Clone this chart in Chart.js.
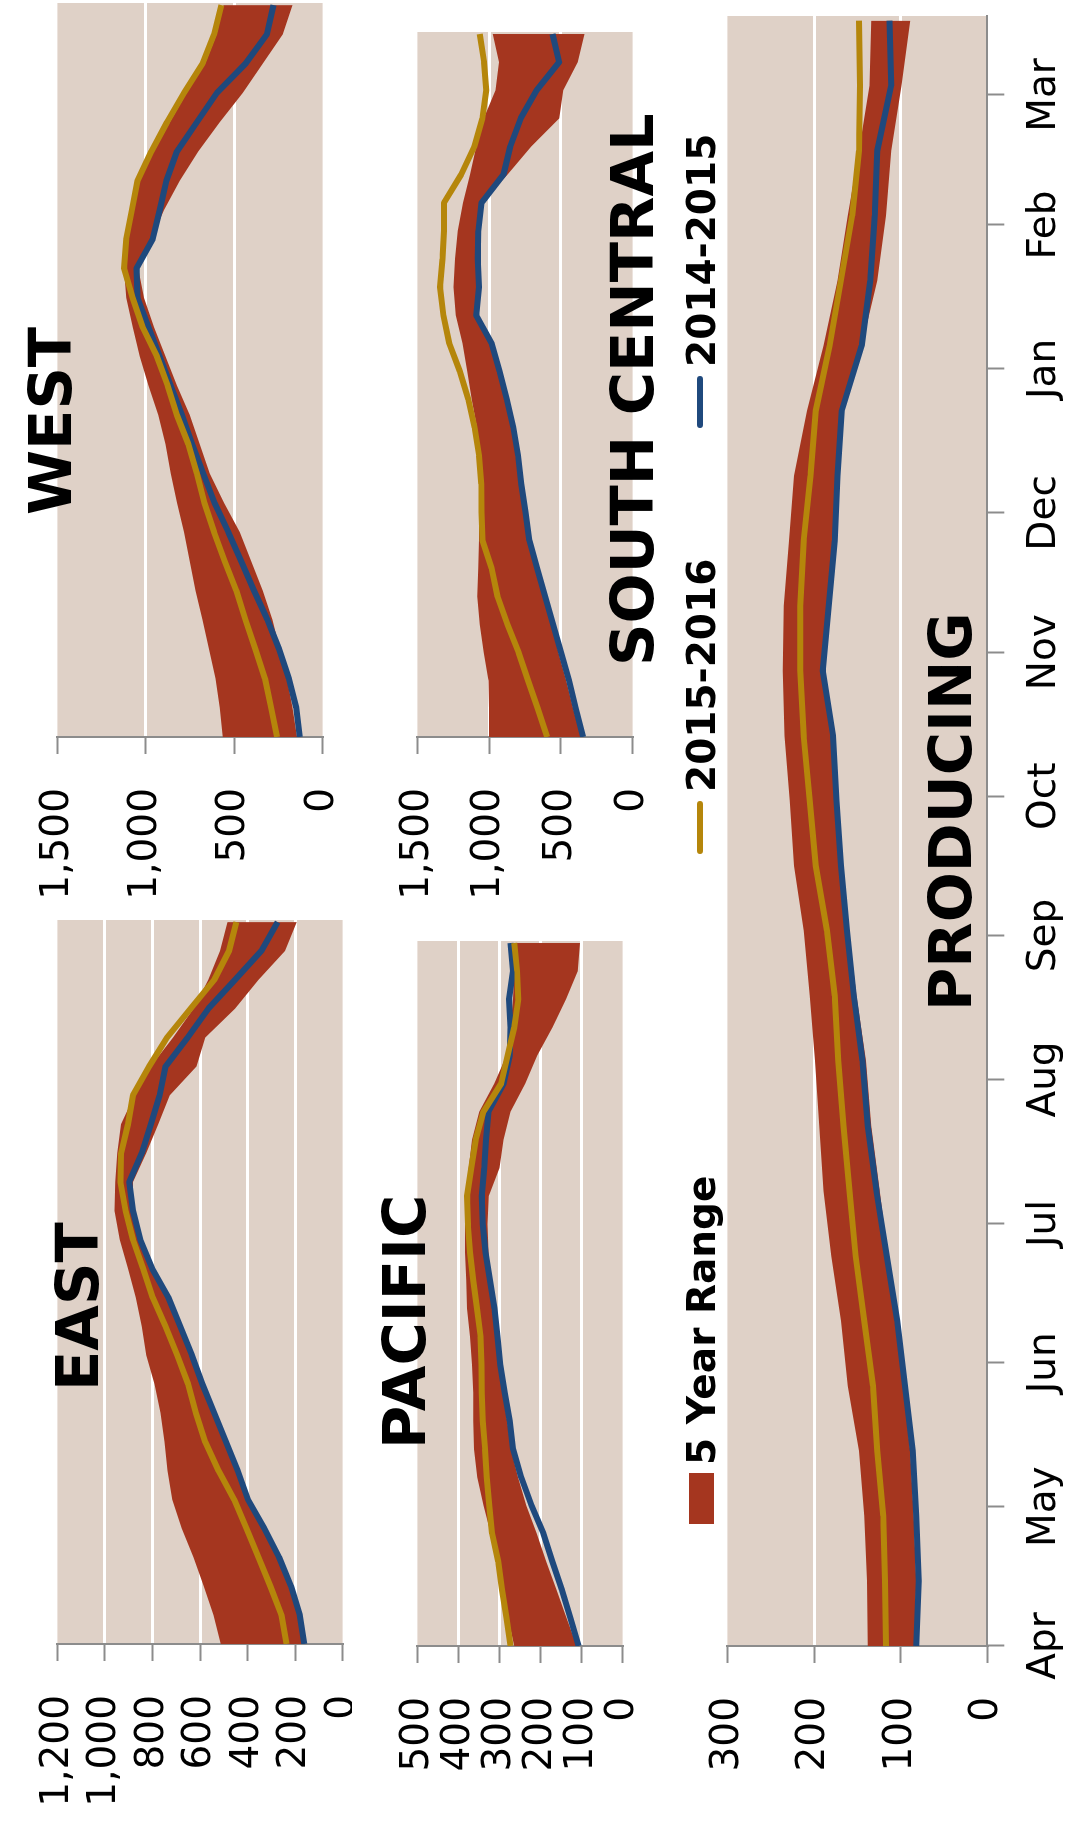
<!DOCTYPE html>
<html>
<head>
<meta charset="utf-8">
<script src="https://cdn.jsdelivr.net/npm/chart.js@4.4.1/dist/chart.umd.min.js"></script>
<style>
html, body { margin: 0; padding: 0; background: #fff; overflow: hidden; }
body { width: 1068px; height: 1822px; position: relative; }
/* the chart is laid out landscape and turned a quarter turn to the left */
#frame { position: absolute; left: 0; top: 0; width: 1822px; height: 1068px;
  transform-origin: 0 0; transform: translateY(1822px) rotate(-90deg);
  font-family: 'DejaVu Sans', sans-serif; color: #000; }
.box { position: absolute; overflow: hidden; }
.box canvas { position: absolute; left: 0; top: 0; }
.title { position: absolute; font-weight: bold; font-size: 59px; line-height: 59px; white-space: nowrap; }
.leg { position: absolute; font-weight: bold; font-size: 39px; line-height: 39px; white-space: nowrap; }
.swatch { position: absolute; background: #a5361f; }
.mark { position: absolute; height: 6px; border-radius: 3px; }
</style>
</head>
<body>
<div id="frame">
  <div class="box" style="left:0;top:0;width:920px;height:352px"><canvas id="east" width="920" height="400" style="width:920px;height:400px"></canvas></div>
  <div class="box" style="left:900px;top:0;width:922px;height:380px"><canvas id="west" width="922" height="380" style="width:922px;height:380px"></canvas></div>
  <div class="box" style="left:0;top:360px;width:900px;height:320px"><canvas id="pacific" width="900" height="320" style="width:900px;height:320px"></canvas></div>
  <div class="box" style="left:900px;top:360px;width:922px;height:330px"><canvas id="southcentral" width="922" height="330" style="width:922px;height:330px"></canvas></div>
  <div class="box" style="left:0;top:670px;width:1822px;height:398px"><canvas id="producing" width="1822" height="398" style="width:1822px;height:398px"></canvas></div>

  <div class="title" style="left:431px;top:48px">EAST</div>
  <div class="title" style="left:1307px;top:21px">WEST</div>
  <div class="title" style="left:373px;top:375px">PACIFIC</div>
  <div class="title" style="left:1156px;top:603px">SOUTH CENTRAL</div>
  <div class="title" style="left:811px;top:921px">PRODUCING</div>

  <div class="swatch" style="left:298px;top:689px;width:51px;height:25px"></div>
  <div class="leg" style="left:357px;top:682px">5 Year Range</div>
  <div class="mark" style="left:968px;top:697px;width:53px;background:#b5860b"></div>
  <div class="leg" style="left:1030px;top:682px">2015-2016</div>
  <div class="mark" style="left:1394px;top:697px;width:52px;background:#1f497d"></div>
  <div class="leg" style="left:1455px;top:682px">2014-2015</div>
</div>

<script>
// days since Apr 1, every second week
const weekDays = [0, 14, 28, 42, 56, 70, 84, 98, 112, 126, 140, 154, 168, 182, 196, 210, 224, 238, 252, 266, 280, 294, 308, 322, 336, 350];
const monthDays = [0, 30, 61, 91, 122, 153, 183, 214, 244, 275, 306, 334];
const monthNames = ['Apr', 'May', 'Jun', 'Jul', 'Aug', 'Sep', 'Oct', 'Nov', 'Dec', 'Jan', 'Feb', 'Mar'];

const eastMax  = [513, 543, 584, 627, 677, 717, 737, 749, 766, 791, 826, 845, 870, 903, 938, 960, 957, 948, 932, 876, 807, 714, 627, 565, 516, 484];
const eastMin  = [170, 185, 222, 274, 336, 400, 441, 491, 536, 590, 634, 680, 730, 801, 851, 882, 882, 826, 776, 727, 615, 578, 453, 354, 242, 193];
const east1516 = [236, 257, 304, 354, 404, 456, 522, 578, 617, 650, 696, 745, 799, 839, 882, 913, 935, 932, 903, 882, 814, 739, 640, 540, 478, 447];
const east1415 = [161, 180, 217, 267, 329, 398, 441, 491, 540, 590, 634, 683, 733, 801, 851, 882, 898, 845, 807, 770, 745, 652, 565, 453, 342, 273];

const westMax  = [565, 582, 606, 643, 679, 719, 751, 784, 824, 859, 889, 929, 985, 1034, 1074, 1111, 1123, 1100, 1068, 1035, 955, 865, 770, 665, 600, 560];
const westMin  = [145, 170, 202, 242, 283, 339, 404, 468, 557, 638, 695, 751, 824, 889, 953, 1010, 1042, 969, 897, 808, 703, 582, 452, 339, 226, 170];
const west1516 = [258, 291, 326, 380, 436, 488, 553, 614, 669, 711, 759, 824, 876, 937, 1018, 1074, 1123, 1111, 1079, 1047, 969, 880, 784, 679, 614, 573];
const west1415 = [129, 149, 191, 246, 312, 388, 460, 533, 611, 675, 738, 796, 859, 921, 985, 1047, 1053, 961, 921, 884, 824, 711, 598, 436, 315, 278];

const pacMax  = [264, 279, 292, 306, 321, 339, 354, 362, 364, 364, 367, 372, 379, 381, 384, 384, 381, 375, 367, 349, 313, 283, 273, 267, 264, 264];
const pacMin  = [112, 137, 161, 186, 209, 235, 255, 272, 281, 292, 302, 309, 316, 322, 327, 329, 326, 300, 290, 273, 237, 208, 171, 138, 109, 104];
const pac1516 = [273, 283, 294, 303, 318, 325, 331, 335, 341, 343, 344, 346, 355, 364, 372, 377, 379, 369, 358, 339, 296, 280, 264, 254, 257, 264];
const pac1415 = [107, 127, 148, 171, 193, 222, 247, 267, 275, 287, 298, 305, 312, 323, 334, 341, 343, 337, 333, 327, 290, 275, 273, 277, 267, 273];

const scMax  = [1001, 1001, 1005, 1038, 1066, 1083, 1075, 1071, 1071, 1071, 1075, 1084, 1121, 1153, 1186, 1232, 1249, 1238, 1219, 1182, 1134, 1090, 1038, 955, 931, 974];
const scMin  = [358, 414, 462, 517, 562, 610, 660, 713, 739, 772, 791, 826, 868, 931, 983, 1075, 1066, 1066, 1075, 1053, 872, 706, 512, 484, 382, 336];
const sc1516 = [595, 660, 728, 794, 872, 942, 983, 1047, 1053, 1055, 1070, 1101, 1145, 1204, 1278, 1319, 1343, 1325, 1315, 1315, 1195, 1103, 1047, 1020, 1035, 1066];
const sc1415 = [345, 395, 443, 499, 554, 610, 665, 720, 746, 776, 798, 831, 876, 927, 983, 1090, 1070, 1079, 1075, 1053, 900, 853, 780, 669, 512, 558];

const prodMax  = [138, 139, 142, 148, 161, 169, 180, 189, 194, 199, 205, 212, 223, 228, 234, 236, 235, 229, 223, 208, 189, 173, 161, 148, 136, 134];
const prodMin  = [84, 82, 85, 89, 97, 104, 115, 124, 134, 140, 151, 160, 167, 172, 177, 189, 184, 177, 174, 169, 145, 127, 117, 111, 99, 89];
const prod1516 = [117, 118, 120, 127, 132, 142, 152, 159, 166, 172, 176, 185, 198, 205, 212, 216, 216, 212, 204, 198, 182, 169, 156, 148, 147, 148];
const prod1415 = [82, 79, 82, 86, 95, 104, 116, 128, 138, 144, 154, 162, 169, 174, 178, 190, 183, 176, 173, 168, 145, 135, 130, 127, 111, 113];

const BG = '#dfd1c7';
const BAND = '#a5361f';
const GOLD = '#b5860b';
const BLUE = '#1f497d';
const AXIS = '#8c8c8c';
const tickFont = { family: 'DejaVu Sans', size: 39 };

const plotBg = {
  id: 'plotBg',
  beforeDraw(chart) {
    const a = chart.chartArea;
    const c = chart.ctx;
    c.save();
    c.fillStyle = BG;
    c.fillRect(a.left, a.top, a.right - a.left, a.bottom - a.top);
    c.restore();
  }
};

function pts(values) {
  return values.map((v, i) => ({ x: weekDays[i], y: v }));
}

function lineSet(values, color) {
  return { data: pts(values), borderColor: color, borderWidth: 6, pointRadius: 0,
    fill: false, tension: 0, borderJoinStyle: 'round', borderCapStyle: 'butt' };
}

// nudge the layout padding until the plot area sits where the panel should be
function placeArea(chart, want) {
  const pad = { left: 0, top: 0, right: 0, bottom: 0 };
  for (let k = 0; k < 5; k++) {
    const a = chart.chartArea;
    pad.left += want.left - a.left;
    pad.top += want.top - a.top;
    pad.right += a.right - want.right;
    pad.bottom += a.bottom - want.bottom;
    chart.options.layout.padding = Object.assign({}, pad);
    chart.update();
  }
}

function makePanel(id, o) {
  const ctx = document.getElementById(id).getContext('2d');

  const xScale = { type: 'linear', min: 0, max: 351, display: false };
  if (o.months) {
    Object.assign(xScale, {
      display: true,
      afterBuildTicks: s => { s.ticks = monthDays.map(v => ({ value: v })); },
      ticks: { autoSkip: false, maxRotation: 0, minRotation: 0, padding: 17,
        font: tickFont, color: '#000', callback: (v, i) => monthNames[i] },
      grid: { drawOnChartArea: false, drawTicks: true, tickLength: 17, tickColor: AXIS, tickWidth: 2 },
      border: { display: true, color: AXIS, width: 2 }
    });
  }

  const chart = new Chart(ctx, {
    type: 'line',
    data: {
      datasets: [
        lineSet(o.s1516, GOLD),
        lineSet(o.s1415, BLUE),
        { data: pts(o.max), borderWidth: 0, pointRadius: 0, fill: '+1', backgroundColor: BAND, tension: 0 },
        { data: pts(o.min), borderWidth: 0, pointRadius: 0, fill: false, tension: 0 }
      ]
    },
    options: {
      responsive: false,
      maintainAspectRatio: false,
      animation: false,
      layout: { padding: 0 },
      plugins: { legend: { display: false }, tooltip: { enabled: false } },
      scales: {
        x: xScale,
        y: {
          min: 0,
          max: o.yMax,
          ticks: { stepSize: o.yStep, padding: 34, font: tickFont, color: '#000',
            callback: v => v.toLocaleString('en-US') },
          grid: {
            color: c => (c.tick && (c.tick.value === 0 || c.tick.value === o.yMax)) ? 'rgba(0,0,0,0)' : '#ffffff',
            lineWidth: 3, drawTicks: true, tickLength: 17, tickColor: AXIS, tickWidth: 2
          },
          border: { display: true, color: AXIS, width: 2 }
        }
      }
    },
    plugins: [plotBg]
  });

  placeArea(chart, o.area);
  return chart;
}

// plot areas in canvas pixels
makePanel('east', { max: eastMax, min: eastMin, s1516: east1516, s1415: east1415,
  yMax: 1200, yStep: 200, area: { left: 178, right: 902, top: 26, bottom: 349.3 } });
makePanel('west', { max: westMax, min: westMin, s1516: west1516, s1415: west1415,
  yMax: 1500, yStep: 500, area: { left: 185, right: 922, top: 27.3, bottom: 336.7 } });
makePanel('pacific', { max: pacMax, min: pacMin, s1516: pac1516, s1415: pac1415,
  yMax: 500, yStep: 100, area: { left: 176, right: 881, top: 28.3, bottom: 281.7 } });
makePanel('southcentral', { max: scMax, min: scMin, s1516: sc1516, s1415: sc1415,
  yMax: 1500, yStep: 500, area: { left: 185, right: 890, top: 26.7, bottom: 297.3 } });
makePanel('producing', { max: prodMax, min: prodMin, s1516: prod1516, s1415: prod1415,
  yMax: 300, yStep: 100, months: true, area: { left: 176, right: 1806, top: 32.7, bottom: 317.3 } });
</script>
</body>
</html>
